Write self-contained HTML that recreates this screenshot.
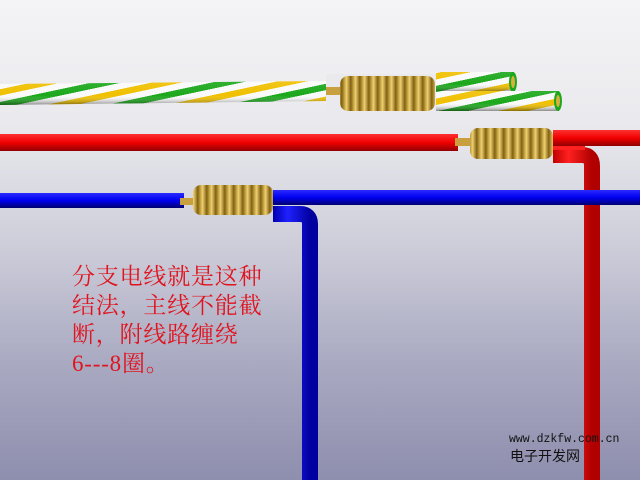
<!DOCTYPE html>
<html><head><meta charset="utf-8"><style>
html,body{margin:0;padding:0;width:640px;height:480px;overflow:hidden}
body{background:linear-gradient(#f4f4f6 0%,#eaeaee 25%,#cfcfdb 50%,#aaaac2 75%,#8e8eae 100%);position:relative;font-family:"Liberation Serif","Noto Serif CJK SC",serif}
svg{position:absolute;left:0;top:0}
.t{position:absolute;left:72px;top:262px;color:#e0141e;font-size:23px;line-height:29px;letter-spacing:0.8px;font-family:"Liberation Serif","Noto Serif CJK SC",serif}
.w{position:absolute;left:509px;top:433px;font-family:"Liberation Mono",monospace;font-size:11.5px;color:#111}
.c{position:absolute;left:510px;top:446px;font-family:"Liberation Sans","Noto Sans CJK SC",sans-serif;font-size:14px;color:#111}
</style></head><body>
<svg width="640" height="480" viewBox="0 0 640 480">
<defs>
<linearGradient id="red" x1="0" y1="0" x2="0" y2="1"><stop offset="0" stop-color="#ff3030"/><stop offset=".5" stop-color="#f00000"/><stop offset="1" stop-color="#900000"/></linearGradient>
<linearGradient id="redv" x1="0" y1="0" x2="1" y2="0"><stop offset="0" stop-color="#c00000"/><stop offset=".4" stop-color="#ff2020"/><stop offset="1" stop-color="#b00000"/></linearGradient>
<linearGradient id="blue" x1="0" y1="0" x2="0" y2="1"><stop offset="0" stop-color="#2a2aff"/><stop offset=".5" stop-color="#0000f0"/><stop offset="1" stop-color="#000070"/></linearGradient>
<linearGradient id="bluev" x1="0" y1="0" x2="1" y2="0"><stop offset="0" stop-color="#0000b0"/><stop offset=".4" stop-color="#2020ff"/><stop offset="1" stop-color="#0000a0"/></linearGradient>
<linearGradient id="shade" x1="0" y1="0" x2="0" y2="1"><stop offset="0" stop-color="#fff" stop-opacity=".1"/><stop offset=".6" stop-color="#fff" stop-opacity="0"/><stop offset="1" stop-color="#000" stop-opacity=".45"/></linearGradient>
<pattern id="stripe" width="120" height="40" patternUnits="userSpaceOnUse" patternTransform="skewX(-78)">
<rect width="120" height="40" fill="#fafafa"/><rect x="0" width="30" height="40" fill="#1ca81c"/><rect x="60" width="30" height="40" fill="#f0c000"/></pattern>
<linearGradient id="gold" x1="0" y1="0" x2="1" y2="0"><stop offset="0" stop-color="#8a6a10"/><stop offset=".5" stop-color="#f0d070"/><stop offset="1" stop-color="#7a5a10"/></linearGradient>
<pattern id="coil" width="9" height="40" patternUnits="userSpaceOnUse"><rect width="9" height="40" fill="url(#gold)"/></pattern>
</defs>
<polygon points="0,84 326,81 326,101 0,105" fill="url(#stripe)"/>
<polygon points="0,84 326,81 326,101 0,105" fill="url(#shade)"/>
<rect x="326" y="74" width="110" height="39" fill="#eaeaee"/>
<rect x="436" y="72" width="78" height="20" fill="url(#stripe)"/><rect x="436" y="72" width="78" height="20" fill="url(#shade)"/>
<ellipse cx="513" cy="82" rx="4" ry="10" fill="#1ca81c"/><ellipse cx="513" cy="82" rx="2" ry="6" fill="#d8b040"/>
<rect x="436" y="91" width="123" height="20" fill="url(#stripe)"/><rect x="436" y="91" width="123" height="20" fill="url(#shade)"/>
<ellipse cx="558" cy="101" rx="4" ry="10" fill="#1ca81c"/><ellipse cx="558" cy="101" rx="2" ry="6" fill="#d8b040"/>
<rect x="326" y="87" width="20" height="8" fill="#c9a040"/>
<rect x="340" y="76" width="95" height="35" rx="8" fill="url(#coil)"/>
<rect x="0" y="134" width="458" height="17" fill="url(#red)"/>
<rect x="455" y="138" width="20" height="8" fill="#c9a040"/>
<rect x="470" y="128" width="83" height="31" rx="8" fill="url(#coil)"/>
<rect x="553" y="130" width="87" height="16" fill="url(#red)"/>
<path d="M553,155 H582 Q592,155 592,166 V480" fill="none" stroke="url(#redv)" stroke-width="16"/>
<path d="M553,148 H585" stroke="#ff2020" stroke-width="4"/>
<rect x="0" y="193" width="184" height="15" fill="url(#blue)"/>
<rect x="180" y="198" width="18" height="7" fill="#c9a040"/>
<rect x="193" y="185" width="80" height="30" rx="8" fill="url(#coil)"/>
<rect x="273" y="190" width="367" height="15" fill="url(#blue)"/>
<path d="M273,214 H300 Q310,214 310,224 V480" fill="none" stroke="url(#bluev)" stroke-width="16"/>
<path d="M588,160 V480" stroke="url(#redv)" stroke-width="16"/>
</svg>
<div class="t">分支电线就是这种<br>结法，主线不能截<br>断，附线路缠绕<br>6---8圈。</div>
<div class="w">www.dzkfw.com.cn</div>
<div class="c">电子开发网</div>
</body></html>
